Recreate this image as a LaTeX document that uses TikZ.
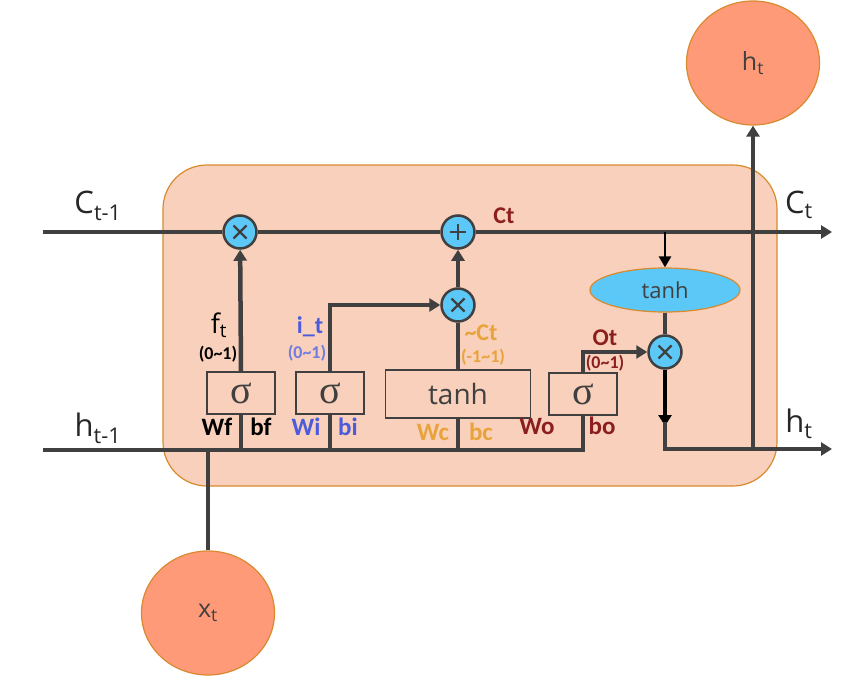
\documentclass[tikz,border=0pt]{standalone}
\usepackage{fontspec}
\setmainfont{Open Sans}
\newfontfamily\lblfont{Carlito}
\newfontfamily\sigfont{Liberation Serif}
\usetikzlibrary{arrows.meta,shapes.geometric}
\definecolor{peach}{HTML}{F8D0BB}
\definecolor{peachborder}{HTML}{D98A2E}
\definecolor{salmon}{HTML}{FE9A78}
\definecolor{skyb}{HTML}{5BC8F7}
\definecolor{ln}{HTML}{404040}
\definecolor{lblue}{HTML}{4B5BDB}
\definecolor{lorange}{HTML}{E8A33A}
\definecolor{lred}{HTML}{8B1E1E}
\tikzset{
  wire/.style={draw=ln,line width=4.5pt},
  arr/.style={wire,-{Triangle[length=11pt,width=13pt]}},
  barr/.style={draw=black,line width=4.5pt,-{Triangle[length=11pt,width=13pt]}},
  op/.style={circle,draw=ln,line width=2.5pt,fill=skyb,minimum size=33pt,inner sep=0pt},
  mulop/.style={op,path picture={\draw[ln,line width=2.4pt] ([shift={(-6.5pt,-6.5pt)}]path picture bounding box.center) -- ([shift={(6.5pt,6.5pt)}]path picture bounding box.center) ([shift={(-6.5pt,6.5pt)}]path picture bounding box.center) -- ([shift={(6.5pt,-6.5pt)}]path picture bounding box.center);}},
  addop/.style={op,path picture={\draw[ln,line width=2.6pt] ([xshift=-8pt]path picture bounding box.center) -- ([xshift=8pt]path picture bounding box.center) ([yshift=-8pt]path picture bounding box.center) -- ([yshift=8pt]path picture bounding box.center);}},
  gate/.style={draw=ln,line width=1.5pt,fill=peach,minimum width=68pt,minimum height=42pt,inner sep=0pt,font=\sigfont\fontsize{40}{40}\selectfont,text=ln},
  bigball/.style={ellipse,draw=peachborder,line width=1.2pt,fill=salmon,minimum width=133pt,minimum height=124pt,inner sep=0pt,font=\fontsize{25}{25}\selectfont,text=ln},
  lbl/.style={inner sep=0pt,font=\lblfont\bfseries\fontsize{25}{25}\selectfont},
  sml/.style={inner sep=0pt,font=\lblfont\bfseries\fontsize{18}{18}\selectfont},
  big/.style={inner sep=0pt,font=\fontsize{31}{31}\selectfont,text=black!85},
}
\begin{document}
\begin{tikzpicture}[x=1pt,y=-1pt]
\useasboundingbox (0,0) rectangle (859,682);
% cell body
\draw[fill=peach,draw=peachborder,line width=1.2pt,rounded corners=44pt] (163,165) rectangle (777,486);

% operators
\node[mulop] (mf) at (240,232) {};
\node[addop] (pl) at (458,232) {};
\node[mulop] (mi) at (458,305) {};
\node[mulop] (mo) at (665,352) {};
\node[ellipse,draw=peachborder,line width=1.2pt,fill=skyb,minimum width=150pt,minimum height=44pt,inner sep=0pt,font=\fontsize{22}{22}\selectfont,text=ln] (tho) at (665,290) {tanh};

% gates
\node[gate] (sf) at (241,393) {σ};
\node[gate] (si) at (330,393) {σ};
\node[gate,minimum width=145pt,minimum height=48pt,font=\fontsize{28}{28}\selectfont] (tc) at (458,394) {tanh};
\node[gate] (so) at (583,394) {σ};

% input/output balls
\node[bigball] (xt) at (208,613) {x\textsubscript{t}};
\node[bigball] (hto) at (753,63) {h\textsubscript{t}};

% coordinates
\coordinate (cin) at (43,232);
\coordinate (cout) at (832,232);
\coordinate (hin) at (43,450);
\coordinate (hend) at (583,450);
\coordinate (hout) at (832,449);
\coordinate (xj) at (208,450);
\coordinate (fj) at (241,450);
\coordinate (ij) at (330,450);
\coordinate (cj) at (458,450);
\coordinate (ctap) at (665,232);
\coordinate (hcorner) at (665,449);
\coordinate (hup) at (753,449);

% cell state line
\draw[wire] (cin) -- (mf);
\draw[wire] (mf) -- (pl);
\draw[arr] (pl) -- (cout);

% hidden input line
\draw[wire] (hin) -- (hend) -- (so.south);
\draw[wire] (fj) -- (sf.south);
\draw[wire] (ij) -- (si.south);
\draw[wire] (cj) -- (tc.south);
\draw[wire] (xt.north) -- (xj);

% gate outputs
\draw[arr] (sf.north) -- (mf);
\draw[arr] (si.north) |- (mi);
\draw[wire] (tc.north) -- (mi);
\draw[arr] (mi) -- (pl);
\draw[arr] (so.north) |- (mo);

% output path
\draw[draw=black,line width=2.5pt,-{Triangle[length=11pt,width=12pt]}] (ctap) -- (tho.north);
\draw[wire] (tho.south) -- (mo);
\draw[barr] (mo.south) -- (665,426);
\draw[wire,line cap=rect] (665,424) -- (hcorner) -- (hup);
\draw[arr] (hup) -- (hout);
\draw[arr] (hup) -- (hto.south);

% big labels
\node[big] (lc1) at (98,206) {C\textsubscript{t-1}};
\node[big] (lh1) at (98,428) {h\textsubscript{t-1}};
\node[big] (lct) at (799,205) {C\textsubscript{t}};
\node[big] (lht) at (799,424) {h\textsubscript{t}};

% gate labels
\node[inner sep=0pt,font=\fontsize{27}{27}\selectfont,text=black] (ft) at (219,325) {f\textsubscript{t}};
\node[sml,text=black] (f01) at (218,354) {(0\textasciitilde 1)};
\node[lbl,text=lblue,font=\lblfont\bfseries\fontsize{24}{24}\selectfont] (itl) at (310,327) {i\_t};
\node[sml,text=lblue!80] (i01) at (307,353) {(0\textasciitilde 1)};
\node[lbl,text=black] (wf) at (217,427) {Wf};
\node[lbl,text=black] (bf) at (261,427) {bf};
\node[lbl,text=lblue] (wi) at (306,427) {Wi};
\node[lbl,text=lblue] (bi) at (348,427) {bi};
\node[lbl,text=lorange] (wc) at (433,432) {Wc};
\node[lbl,text=lorange] (bc) at (481,432) {bc};
\node[lbl,text=lred] (wo) at (537,426) {Wo};
\node[lbl,text=lred] (bo) at (602,426) {bo};
\node[lbl,text=lred,font=\lblfont\bfseries\fontsize{24}{24}\selectfont] (ctl) at (504,216) {Ct};
\node[lbl,text=lorange,font=\lblfont\bfseries\fontsize{24}{24}\selectfont] (tct) at (481,333) {\textasciitilde Ct};
\node[sml,text=lorange] (m11) at (483,357) {(-1\textasciitilde 1)};
\node[lbl,text=lred,font=\lblfont\bfseries\fontsize{24}{24}\selectfont] (otl) at (605,338) {Ot};
\node[sml,text=lred] (o01) at (605,363) {(0\textasciitilde 1)};
\end{tikzpicture}
\end{document}
